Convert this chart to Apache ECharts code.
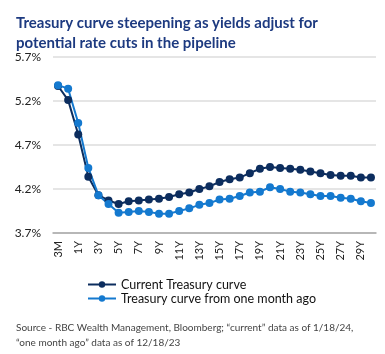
<!DOCTYPE html>
<html>
<head>
<meta charset="utf-8">
<script src="https://cdn.jsdelivr.net/npm/echarts@6/dist/echarts.min.js"></script>
<style>
  html, body { margin: 0; padding: 0; background: #fff; }
  #chart { width: 385px; height: 354px; }
</style>
</head>
<body>
<div id="chart"></div>
<script>
// maturities along the curve
const maturities = ["3M", "6M", "1Y", "2Y", "3Y", "4Y", "5Y", "6Y", "7Y", "8Y", "9Y", "10Y",
  "11Y", "12Y", "13Y", "14Y", "15Y", "16Y", "17Y", "18Y", "19Y", "20Y", "21Y", "22Y",
  "23Y", "24Y", "25Y", "26Y", "27Y", "28Y", "29Y", "30Y"];
// yields in %, current (1/18/24)
const currentCurve = [5.37, 5.21, 4.82, 4.34, 4.13, 4.07, 4.03, 4.06, 4.07, 4.08, 4.09, 4.11,
  4.14, 4.16, 4.20, 4.23, 4.28, 4.31, 4.33, 4.38, 4.43, 4.45, 4.44, 4.43,
  4.42, 4.40, 4.38, 4.36, 4.35, 4.35, 4.33, 4.33];
// yields in %, one month ago (12/18/23)
const monthAgoCurve = [5.38, 5.34, 4.95, 4.44, 4.13, 4.03, 3.93, 3.94, 3.95, 3.94, 3.92, 3.92,
  3.95, 3.98, 4.02, 4.04, 4.08, 4.09, 4.12, 4.16, 4.17, 4.22, 4.20, 4.17,
  4.16, 4.14, 4.12, 4.12, 4.10, 4.09, 4.06, 4.04];
const yTicks = [3.7, 4.2, 4.7, 5.2, 5.7];

const darkBlue = "#0c2d5e";
const lightBlue = "#1479cf";
const font = "Lato";

const myChart = echarts.init(document.getElementById("chart"));
const option = {
  animation: false,
  textStyle: { fontFamily: font },
  title: [
    {
      text: "Treasury curve steepening as yields adjust for\npotential rate cuts in the pipeline",
      left: 11,
      top: 8,
      textStyle: { color: "#1d3a80", fontSize: 15, fontWeight: "bold", lineHeight: 20, fontFamily: font }
    },
    {
      text: "Source - RBC Wealth Management, Bloomberg; \u201ccurrent\u201d data as of 1/18/24,\n\u201cone month ago\u201d data as of 12/18/23",
      left: 11,
      top: 315,
      textStyle: { color: "#444", fontSize: 10, fontWeight: "normal", lineHeight: 15, fontFamily: font }
    }
  ],
  legend: {
    orient: "vertical",
    left: 82,
    top: 273,
    itemWidth: 28,
    itemHeight: 8,
    itemGap: 1,
    textStyle: { color: "#111", fontSize: 12.5, fontFamily: font },
    data: ["Current Treasury curve", "Treasury curve from one month ago"]
  },
  grid: { left: 53, right: 9, top: 57, bottom: 121 },
  xAxis: {
    type: "category",
    data: maturities,
    boundaryGap: true,
    axisLine: { lineStyle: { color: "#a8a8a8", width: 1.5 } },
    axisTick: { show: false },
    axisLabel: { interval: 1, rotate: 90, color: "#222", fontSize: 11, margin: 8 }
  },
  yAxis: {
    type: "value",
    min: yTicks[0],
    max: yTicks[yTicks.length - 1],
    interval: 0.5,
    axisLine: { show: false },
    axisTick: { show: false },
    splitLine: { lineStyle: { color: "#dcdcdc", width: 1.5 } },
    axisLabel: { color: "#222", fontSize: 12, margin: 12, formatter: (v) => v.toFixed(1) + "%" }
  },
  series: [
    {
      name: "Current Treasury curve",
      type: "line",
      data: currentCurve,
      symbol: "circle",
      symbolSize: 8,
      showAllSymbol: true,
      lineStyle: { color: darkBlue, width: 2 },
      itemStyle: { color: darkBlue }
    },
    {
      name: "Treasury curve from one month ago",
      type: "line",
      data: monthAgoCurve,
      symbol: "circle",
      symbolSize: 8,
      showAllSymbol: true,
      lineStyle: { color: lightBlue, width: 2 },
      itemStyle: { color: lightBlue }
    }
  ]
};
myChart.setOption(option);
</script>
</body>
</html>
